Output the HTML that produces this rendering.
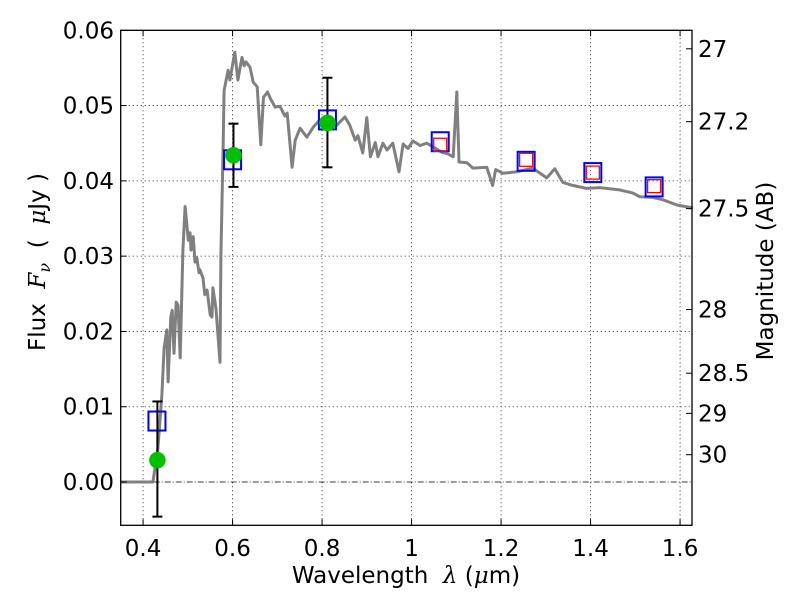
<!DOCTYPE html>
<html><head><meta charset="utf-8"><style>
html,body{margin:0;padding:0;background:#fff;}
svg{display:block;font-family:"DejaVu Sans","Liberation Sans",sans-serif;}
</style></head><body>
<svg id="chart" width="800" height="600" viewBox="0 0 800 600" xmlns="http://www.w3.org/2000/svg"></svg>
<script>
const specX=[0.35,0.422,0.433,0.442,0.447,0.453,0.456,0.462,0.465,0.469,0.474,0.478,0.483,0.489,0.494,0.498,0.501,0.505,0.507,0.512,0.516,0.520,0.525,0.527,0.534,0.538,0.543,0.550,0.554,0.556,0.563,0.572,0.574,0.579,0.581,0.590,0.594,0.605,0.612,0.621,0.626,0.630,0.639,0.646,0.655,0.663,0.669,0.678,0.684,0.695,0.706,0.717,0.722,0.733,0.740,0.751,0.766,0.780,0.795,0.811,0.833,0.851,0.862,0.874,0.880,0.891,0.900,0.908,0.919,0.925,0.936,0.945,0.958,0.972,0.981,0.992,1.003,1.019,1.034,1.048,1.068,1.081,1.093,1.101,1.106,1.124,1.137,1.168,1.181,1.188,1.204,1.235,1.271,1.302,1.320,1.338,1.360,1.391,1.420,1.465,1.494,1.510,1.539,1.561,1.593,1.629];
const specY=[0,0,0.0043,0.0116,0.0178,0.0202,0.0133,0.0219,0.0228,0.0171,0.0239,0.0235,0.0165,0.0308,0.0366,0.0341,0.0321,0.0331,0.0308,0.0326,0.0292,0.0298,0.0278,0.0282,0.0271,0.0249,0.0255,0.0222,0.0219,0.0258,0.0230,0.0159,0.0300,0.0450,0.0520,0.0547,0.0534,0.0571,0.0534,0.0564,0.0553,0.0558,0.0551,0.0531,0.0525,0.0448,0.0511,0.0518,0.0510,0.0498,0.0499,0.0486,0.0490,0.0418,0.0454,0.0470,0.0458,0.0471,0.0481,0.0468,0.0474,0.0485,0.0474,0.0454,0.0460,0.0437,0.0484,0.0432,0.0451,0.0432,0.0450,0.0441,0.0450,0.0412,0.0449,0.0443,0.0453,0.0447,0.0450,0.0445,0.0438,0.0436,0.0432,0.0518,0.0425,0.0424,0.0417,0.0418,0.0394,0.0415,0.0410,0.0412,0.0417,0.0404,0.0416,0.0398,0.0394,0.0390,0.0391,0.0388,0.0384,0.0379,0.0378,0.0375,0.0368,0.0364];
const boxX=[0.431,0.600,0.812,1.064,1.256,1.405,1.542];
const boxY=[0.0081,0.0428,0.0481,0.0452,0.0426,0.0411,0.0392];
const redX=[1.064,1.256,1.405,1.542];
const redY=[0.0448,0.0428,0.0411,0.0393];
const ptX=[0.432,0.602,0.812];
const ptY=[0.0029,0.0434,0.0477];
const errLo=[-0.0046,0.0392,0.0418];
const errHi=[0.0107,0.0476,0.0537];
const xTicks=[0.4,0.6,0.8,1.0,1.2,1.4,1.6];
const xTickLabels=["0.4","0.6","0.8","1","1.2","1.4","1.6"];
const yTicks=[0,0.01,0.02,0.03,0.04,0.05,0.06];
const yTickLabels=["0.00","0.01","0.02","0.03","0.04","0.05","0.06"];
const magTicks=[27,27.2,27.5,28,28.5,29,30];
const magLabels=["27","27.2","27.5","28","28.5","29","30"];

const L=120.7,R=692,T=30.3,B=525.3;
const X0=0.35,X1=0.35+(R-L)/447.5,Y0=-0.00575,Y1=0.06;
const sx=v=>L+(v-X0)/(X1-X0)*(R-L);
const sy=v=>B-(v-Y0)/(Y1-Y0)*(B-T);
const NS="http://www.w3.org/2000/svg";
const svg=document.getElementById('chart');
function mk(tag,attrs,parent){const e=document.createElementNS(NS,tag);for(const k in attrs)e.setAttribute(k,attrs[k]);(parent||svg).appendChild(e);return e;}

const grid=mk('g',{});


xTicks.forEach(v=>{mk('line',{x1:sx(v),x2:sx(v),y1:T,y2:B,stroke:'#000','stroke-width':0.8,'stroke-dasharray':'1,3'},grid);});
yTicks.forEach(v=>{mk('line',{x1:L,x2:R,y1:sy(v),y2:sy(v),stroke:'#000','stroke-width':0.8,'stroke-dasharray':v===0?'6,2,1,2':'1,3'},grid);});

let d='';specX.forEach((x,i)=>{d+=(i?'L':'M')+sx(x).toFixed(1)+','+sy(specY[i]).toFixed(1);});
const sp=mk('path',{d:d,fill:'none',stroke:'#808080','stroke-width':3,'stroke-linejoin':'round'});



boxX.forEach((x,i)=>{
 const r=mk('rect',{x:sx(x)-8.5,y:sy(boxY[i])-9.5,width:17,height:19,fill:'none',stroke:'#0000ff','stroke-width':2});
 
 
});
redX.forEach((x,i)=>{
 const r=mk('rect',{x:sx(x)-6.5,y:sy(redY[i])-6.5,width:13,height:13,fill:'none',stroke:'#ff0000','stroke-width':1.3});
 
 
});
ptX.forEach((x,i)=>{
 const g=mk('g',{});
 
 
 const cx=sx(x);
 mk('line',{x1:cx,x2:cx,y1:sy(errLo[i]),y2:sy(errHi[i]),stroke:'#000','stroke-width':2},g);
 mk('line',{x1:cx-5,x2:cx+5,y1:sy(errLo[i]),y2:sy(errLo[i]),stroke:'#000','stroke-width':2},g);
 mk('line',{x1:cx-5,x2:cx+5,y1:sy(errHi[i]),y2:sy(errHi[i]),stroke:'#000','stroke-width':2},g);
 mk('circle',{cx:cx,cy:sy(ptY[i]),r:8.3,fill:'#00c000'},g);
});

const fr=mk('rect',{x:L,y:T,width:R-L,height:B-T,fill:'none',stroke:'#000','stroke-width':1.3});



xTicks.forEach((v,i)=>{
 mk('line',{x1:sx(v),x2:sx(v),y1:B,y2:B-6,stroke:'#000'});
 mk('line',{x1:sx(v),x2:sx(v),y1:T,y2:T+6,stroke:'#000'});
 const t=mk('text',{x:sx(v),y:556,'font-size':23,'text-anchor':'middle'});
 t.textContent=xTickLabels[i];
 
 
});
yTicks.forEach((v,i)=>{
 mk('line',{x1:L,x2:L+6,y1:sy(v),y2:sy(v),stroke:'#000'});
 const t=mk('text',{x:114,y:sy(v)+8,'font-size':23,'text-anchor':'end'});
 t.textContent=yTickLabels[i];
 
 
});
magTicks.forEach((m,i)=>{
 const f=Math.pow(10,(23.9-m)/2.5);const y=sy(f);
 mk('line',{x1:R,x2:R-6,y1:y,y2:y,stroke:'#000'});
 const t=mk('text',{x:698,y:y+8,'font-size':23,'text-anchor':'start'});
 t.textContent=magLabels[i];
 
 
});
</script>
<svg style="position:absolute;left:0;top:0" width="800" height="600" xmlns="http://www.w3.org/2000/svg" font-family="DejaVu Sans, Liberation Sans, sans-serif">
<text x="406" y="583" font-size="23" text-anchor="middle" xml:space="preserve">Wavelength  <tspan font-family="DejaVu Serif, Liberation Serif, serif" font-style="italic">λ</tspan> (<tspan font-family="DejaVu Serif, Liberation Serif, serif" font-style="italic">μ</tspan>m)</text>
<text transform="translate(45,262) rotate(-90)" font-size="23" text-anchor="middle" xml:space="preserve">Flux  <tspan font-family="DejaVu Serif, Liberation Serif, serif" font-style="italic">F<tspan font-size="16" dy="5">ν</tspan></tspan><tspan dy="-5">  (  </tspan><tspan font-family="DejaVu Serif, Liberation Serif, serif" font-style="italic">μ</tspan>Jy )</text>
<text transform="translate(773,271) rotate(-90)" font-size="23" text-anchor="middle">Magnitude (AB)</text>
</svg>
</body></html>
